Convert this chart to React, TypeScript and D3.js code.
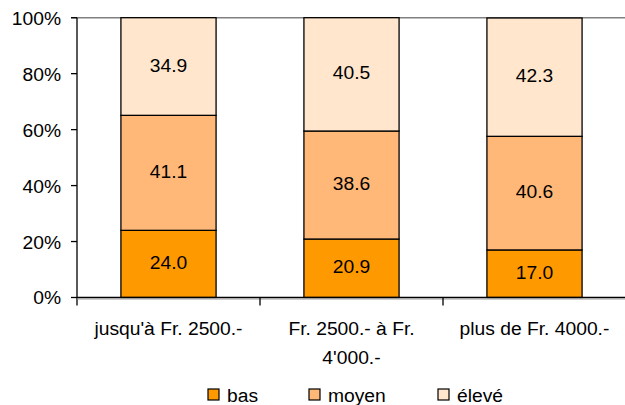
import React from "react";
import * as d3 from "d3";

const categories = [["jusqu'à Fr. 2500.-"], ["Fr. 2500.- à Fr.", "4'000.-"], ["plus de Fr. 4000.-"]];
const seriesNames = ["bas", "moyen", "élevé"];
const bas = [24.0, 20.9, 17.0];
const moyen = [41.1, 38.6, 40.6];
const eleve = [34.9, 40.5, 42.3];
const yTicks = [0, 20, 40, 60, 80, 100];
const colors = ["#FF9900", "#FFB877", "#FFE6CD"];

export default function App() {
  const W = 625, H = 405;
  const left = 77, right = 626, top = 17.7, bottom = 297.5;
  const x = d3.scaleBand().domain(["0", "1", "2"]).range([left, right]).paddingInner(0.48).paddingOuter(0.24);
  const y = d3.scaleLinear().domain([0, 100]).range([bottom, top]);
  const series = [bas, moyen, eleve];
  const stack = d3.stack<number>().keys(["0", "1", "2"]).value((i, k) => series[+k][i]);
  const stacked = stack([0, 1, 2]);
  const step = (right - left) / 3;
  const font = "Liberation Sans, Arial, sans-serif";
  const legendX = [208, 309, 438];
  const sx = 1.07;
  const T = (props: { x: number; y: number; anchor: string; size: number; children: React.ReactNode }) => (
    <text
      x={props.x / sx}
      y={props.y}
      textAnchor={props.anchor}
      fontSize={props.size}
      fill="#000"
      transform={`scale(${sx},1)`}
    >
      {props.children}
    </text>
  );
  return (
    <svg width={W} height={H} style={{ position: "absolute", left: 0, top: 0 }} fontFamily={font}>
      <rect width={W} height={H} fill="#fff" />
      <line x1={71} x2={W} y1={y(100)} y2={y(100)} stroke="#808080" strokeWidth={1.5} />
      {stacked.map((s, si) =>
        s.map((d, i) => {
          const x0 = x(String(i))!;
          const y0 = y(d[1]), y1 = y(d[0]);
          return (
            <g key={si + "-" + i}>
              <rect x={x0} y={y0} width={x.bandwidth()} height={y1 - y0} fill={colors[si]} stroke="#000" strokeWidth={1.3} />
              <T x={x0 + x.bandwidth() / 2} y={(y0 + y1) / 2 + 5} anchor="middle" size={18}>
                {series[si][i].toFixed(1)}
              </T>
            </g>
          );
        })
      )}
      <line x1={left} x2={left} y1={top} y2={bottom + 8} stroke="#000" strokeWidth={1.3} />
      <line x1={left} x2={W} y1={bottom} y2={bottom} stroke="#000" strokeWidth={1.3} />
      <line x1={left} x2={W} y1={bottom + 1.5} y2={bottom + 1.5} stroke="#999" strokeWidth={1} />
      {yTicks.map((t) => (
        <g key={t}>
          <line x1={71} x2={left} y1={y(t)} y2={y(t)} stroke="#000" strokeWidth={1.3} />
          <T x={61} y={y(t) + 7} anchor="end" size={18}>{t}%</T>
        </g>
      ))}
      {[1, 2].map((k) => (
        <line key={k} x1={left + step * k} x2={left + step * k} y1={bottom} y2={bottom + 8} stroke="#000" strokeWidth={1.3} />
      ))}
      {categories.map((lines, i) =>
        lines.map((l, j) => (
          <T key={i + "-" + j} x={x(String(i))! + x.bandwidth() / 2} y={335 + j * 29} anchor="middle" size={18}>
            {l}
          </T>
        ))
      )}
      {seriesNames.map((n, i) => (
        <g key={n}>
          <rect x={legendX[i]} y={389} width={11} height={11} fill={colors[i]} stroke="#000" strokeWidth={1.2} />
          <T x={legendX[i] + 19} y={402} anchor="start" size={18}>{n}</T>
        </g>
      ))}
    </svg>
  );
}
